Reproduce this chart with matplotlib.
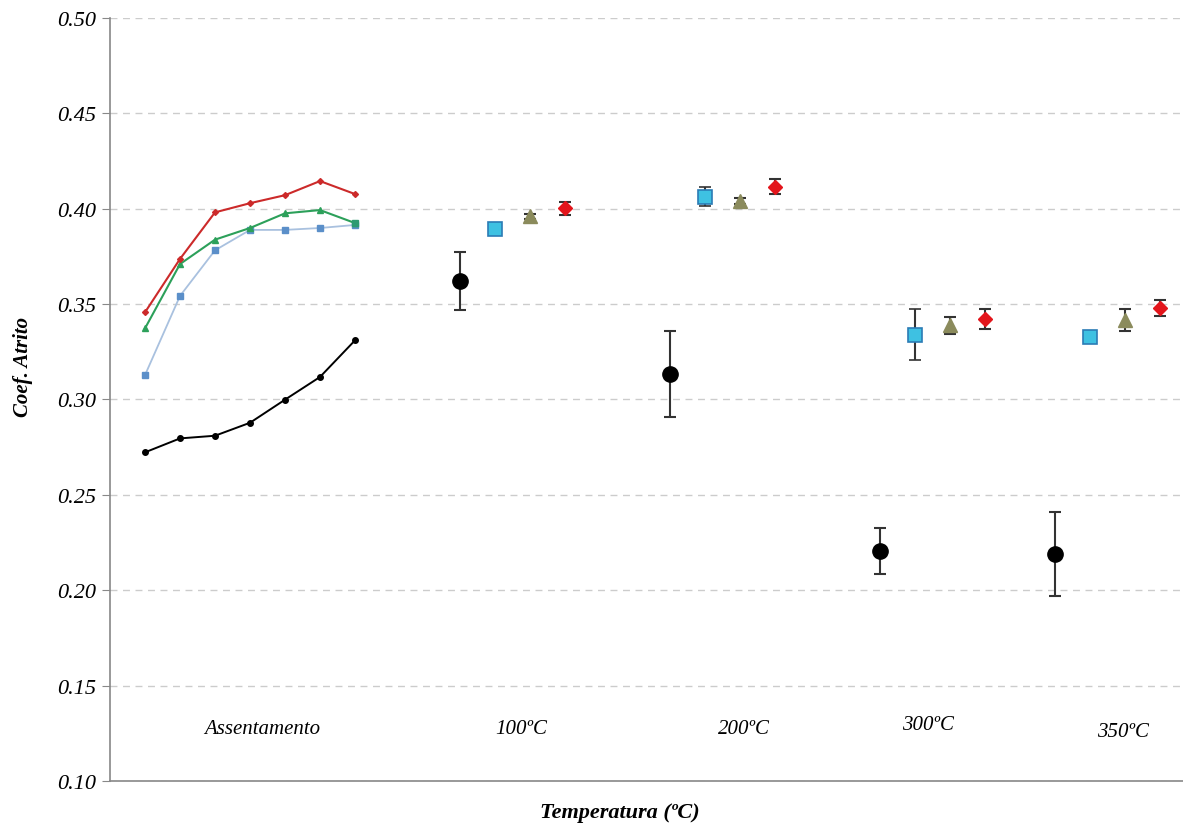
import matplotlib.pyplot as plt

plt.rcParams['font.family'] = 'Liberation Serif'

# Assentamento (running-in) curves
x_assent = [1, 2, 3, 4, 5, 6, 7]
assent_red = [0.3457, 0.3737, 0.3981, 0.4029, 0.4071, 0.4145, 0.4077]
assent_green = [0.3373, 0.3710, 0.3838, 0.3899, 0.3976, 0.3993, 0.3925]
assent_blue = [0.3128, 0.3543, 0.3782, 0.3889, 0.3889, 0.3899, 0.3915]
assent_black = [0.2723, 0.2796, 0.2810, 0.2878, 0.2999, 0.3118, 0.3310]

# temperature groups: black, blue, olive, red
x_black = [10, 16, 22, 27]
y_black = [0.3621, 0.3134, 0.2204, 0.2188]
e_black = [0.0152, 0.0225, 0.0120, 0.0220]

x_blue = [11, 17, 23, 28]
y_blue = [0.3895, 0.4063, 0.3340, 0.3329]
e_blue = [0.0, 0.0050, 0.0135, 0.0030]

x_olive = [12, 18, 24, 29]
y_olive = [0.3960, 0.4040, 0.3390, 0.3415]
e_olive = [0.0015, 0.0015, 0.0045, 0.0057]

x_red = [13, 19, 25, 30]
y_red = [0.4002, 0.4116, 0.3422, 0.3478]
e_red = [0.0033, 0.0040, 0.0050, 0.0042]

cat_labels = ['Assentamento', '100ºC', '200ºC', '300ºC', '350ºC']
cat_x = [4.34, 11.74, 18.11, 23.37, 28.94]
cat_y = [0.1273, 0.1273, 0.1273, 0.1294, 0.1257]

fig = plt.figure(figsize=(11.83, 8.29), dpi=100)
ax = fig.add_axes([0.093, 0.0567, 0.907, 0.9204])

ax.plot(x_assent, assent_black, color='black', lw=1.4, marker='o', ms=4)
ax.plot(x_assent, assent_blue, color='#a9c1df', lw=1.3, marker='s', ms=4,
        mfc='#5b8fc9', mec='#5b8fc9')
ax.plot(x_assent, assent_green, color='#2ca05a', lw=1.5, marker='^', ms=4)
ax.plot(x_assent[-1:], assent_green[-1:], ls='none', marker='s', ms=5,
        color='#2e9a72')
ax.plot(x_assent, assent_red, color='#cc2a2a', lw=1.5, marker='D', ms=3)

ek = dict(ls='none', ecolor='#333333', elinewidth=1.5, capsize=4, capthick=1.5)
ax.errorbar(x_black, y_black, yerr=e_black, marker='o', ms=11,
            mfc='black', mec='black', **ek)
ax.errorbar(x_blue, y_blue, yerr=e_blue, marker='s', ms=10,
            mfc='#3ec1e2', mec='#2b7cb5', mew=1.2, **ek)
ax.errorbar(x_olive, y_olive, yerr=e_olive, marker='^', ms=10,
            mfc='#8b8b5c', mec='#8b8b5c', **ek)
ax.errorbar(x_red, y_red, yerr=e_red, marker='D', ms=7,
            mfc='#e3151b', mec='#e3151b', **ek)

for lab, xx, yy in zip(cat_labels, cat_x, cat_y):
    ax.text(xx, yy, lab, ha='center', va='center', fontsize=15, style='italic')

ax.set_xlim(0, 30.66)
ax.set_ylim(0.10, 0.50)
ax.set_yticks([0.10, 0.15, 0.20, 0.25, 0.30, 0.35, 0.40, 0.45, 0.50])
ax.set_yticklabels(['%.2f' % v for v in ax.get_yticks()], fontsize=16,
                   style='italic')
ax.set_xticks([])
ax.tick_params(axis='y', length=6, color='#888888', pad=4)
ax.grid(axis='y', ls=(0, (5, 4)), color='#cccccc', lw=1)
ax.set_axisbelow(True)

for s in ['top', 'right']:
    ax.spines[s].set_visible(False)
ax.spines['left'].set_color('#888888')
ax.spines['bottom'].set_color('#888888')
ax.spines['left'].set_linewidth(1.2)
ax.spines['bottom'].set_linewidth(1.2)

ax.set_ylabel('Coef. Atrito', fontsize=15, style='italic', weight='bold')
ax.yaxis.set_label_coords(-0.072, 0.544)
ax.set_xlabel('Temperatura (ºC)', fontsize=16, style='italic', weight='bold')
ax.xaxis.set_label_coords(0.475, -0.027)

fig.savefig('out.png', dpi=100)
